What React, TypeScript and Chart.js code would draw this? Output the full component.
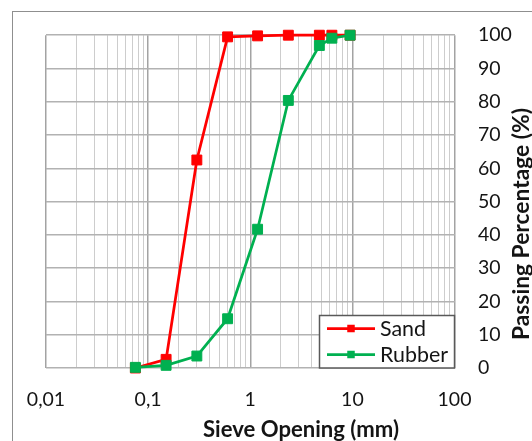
import React, { useEffect, useRef } from 'react';
import { Chart, registerables } from 'chart.js';

Chart.register(...registerables);

const sieveOpenings = [0.075, 0.15, 0.3, 0.6, 1.18, 2.36, 4.75, 6.3, 9.5];
const sandPassing = [0, 2.6, 62.5, 99.5, 99.8, 100, 100, 100, 100];
const rubberPassing = [0.2, 0.8, 3.6, 14.8, 41.7, 80.4, 96.9, 99.1, 100];
const xMajorTicks = [0.01, 0.1, 1, 10, 100];
const xTickLabels = ['0,01', '0,1', '1', '10', '100'];
const yTicks = [0, 10, 20, 30, 40, 50, 60, 70, 80, 90, 100];
const seriesNames = ['Sand', 'Rubber'];
const seriesColors = ['#ff0000', '#00b050'];
const xTitle = 'Sieve Opening (mm)';
const yTitle = 'Passing Percentage (%)';

const TEXT = '#141414';
const FONT = 'Lato';

function majorIndex(v: number): number {
  return xMajorTicks.findIndex((t) => Math.abs(t - v) / t < 1e-6);
}

function fitSize(ctx: CanvasRenderingContext2D, text: string, weight: string, target: number): number {
  ctx.font = `${weight} 20px ${FONT}`;
  const w = ctx.measureText(text).width;
  return (20 * target) / w;
}

const decorPlugin = {
  id: 'decor',
  beforeDraw(chart: any) {
    const ctx: CanvasRenderingContext2D = chart.ctx;
    ctx.save();
    ctx.fillStyle = '#ffffff';
    ctx.fillRect(0, 0, chart.width, chart.height);
    ctx.strokeStyle = '#8f8f8f';
    ctx.lineWidth = 1;
    ctx.strokeRect(12.5, 11.5, chart.width + 40, chart.height + 40);
    ctx.restore();
  },
  afterDraw(chart: any) {
    const ctx: CanvasRenderingContext2D = chart.ctx;
    ctx.save();
    ctx.fillStyle = TEXT;
    // x title
    const xs = fitSize(ctx, xTitle, 'bold', 196);
    ctx.font = `bold ${xs}px ${FONT}`;
    ctx.textAlign = 'center';
    ctx.textBaseline = 'alphabetic';
    ctx.fillText(xTitle, 301, 436.5);
    // y title
    const ys = fitSize(ctx, yTitle, 'bold', 232);
    ctx.font = `bold ${ys}px ${FONT}`;
    ctx.save();
    ctx.translate(529, 224);
    ctx.rotate(-Math.PI / 2);
    ctx.fillText(yTitle, 0, 0);
    ctx.restore();

    // legend
    const lx = 319.5, ly = 315.5, lw = 135, lh = 52.5;
    ctx.fillStyle = '#ffffff';
    ctx.fillRect(lx, ly, lw, lh);
    ctx.strokeStyle = '#595959';
    ctx.lineWidth = 1.5;
    ctx.strokeRect(lx, ly, lw, lh);
    const ls = fitSize(ctx, 'Rubber', 'normal', 68);
    const rows = [328.5, 354.5];
    seriesNames.forEach((name, i) => {
      const y = rows[i];
      ctx.strokeStyle = seriesColors[i];
      ctx.lineWidth = 2.75;
      ctx.beginPath();
      ctx.moveTo(327, y);
      ctx.lineTo(375, y);
      ctx.stroke();
      ctx.fillStyle = seriesColors[i];
      ctx.fillRect(351 - 3.75, y - 3.75, 7.5, 7.5);
      ctx.fillStyle = TEXT;
      ctx.font = `normal ${ls}px ${FONT}`;
      ctx.textAlign = 'left';
      ctx.textBaseline = 'middle';
      ctx.fillText(name, 380, y + 0.5);
    });
    ctx.restore();
  },
};

export default function App() {
  const canvasRef = useRef<HTMLCanvasElement | null>(null);

  useEffect(() => {
    document.body.style.margin = '0';
    const canvas = canvasRef.current;
    if (!canvas) return;

    const gridValues: number[] = [];
    for (let e = -2; e < 2; e++) {
      for (let m = 1; m < 10; m++) gridValues.push(Number((m * Math.pow(10, e)).toPrecision(4)));
    }
    gridValues.push(100);

    const allSeries = [sandPassing, rubberPassing];
    const datasets = allSeries.map((vals, i) => ({
      label: seriesNames[i],
      data: sieveOpenings.map((x, j) => ({ x, y: vals[j] })),
      borderColor: seriesColors[i],
      backgroundColor: seriesColors[i],
      borderWidth: 2.75,
      pointStyle: 'rect',
      pointRadius: 7,
      pointHoverRadius: 7,
      pointBorderWidth: 1,
      pointBorderColor: seriesColors[i],
      pointBackgroundColor: seriesColors[i],
      tension: 0,
      clip: false,
      order: i === 0 ? 1 : 0,
    }));

    const chart = new Chart(canvas, {
      type: 'line',
      data: { datasets } as any,
      plugins: [decorPlugin],
      options: {
        animation: false,
        responsive: false,
        events: [],
        layout: { padding: { left: 46, top: 33, right: 0, bottom: 0 } },
        plugins: { legend: { display: false }, tooltip: { enabled: false } },
        scales: {
          x: {
            type: 'logarithmic',
            min: 0.01,
            max: 100,
            position: 'bottom',
            afterBuildTicks: (s: any) => {
              s.ticks = gridValues.map((v) => ({ value: v }));
            },
            afterFit: (s: any) => {
              s.height = 73;
            },
            ticks: {
              autoSkip: false,
              maxRotation: 0,
              minRotation: 0,
              padding: 20,
              color: TEXT,
              font: { family: FONT, size: 19.5 },
              callback: (v: any) => {
                const i = majorIndex(Number(v));
                return i >= 0 ? xTickLabels[i] : '';
              },
            },
            grid: {
              drawTicks: false,
              color: (c: any) => (majorIndex(c.tick ? c.tick.value : 0) >= 0 ? '#a3a3a3' : '#cdcdcd'),
              lineWidth: (c: any) => (majorIndex(c.tick ? c.tick.value : 0) >= 0 ? 1.5 : 1),
            },
            border: { display: false },
          },
          y: {
            type: 'linear',
            position: 'right',
            min: 0,
            max: 100,
            afterBuildTicks: (s: any) => {
              s.ticks = yTicks.map((v) => ({ value: v }));
            },
            afterFit: (s: any) => {
              s.width = 77.5;
            },
            ticks: {
              padding: 23.5,
              color: TEXT,
              font: { family: FONT, size: 19.5 },
            },
            grid: { drawTicks: false, color: '#b2b2b2', lineWidth: 1.5 },
            border: { display: false },
          },
        },
      } as any,
    });

    return () => chart.destroy();
  }, []);

  return (
    <div style={{ width: 532, height: 441 }}>
      <canvas ref={canvasRef} width={532} height={441} style={{ display: 'block' }} />
    </div>
  );
}
